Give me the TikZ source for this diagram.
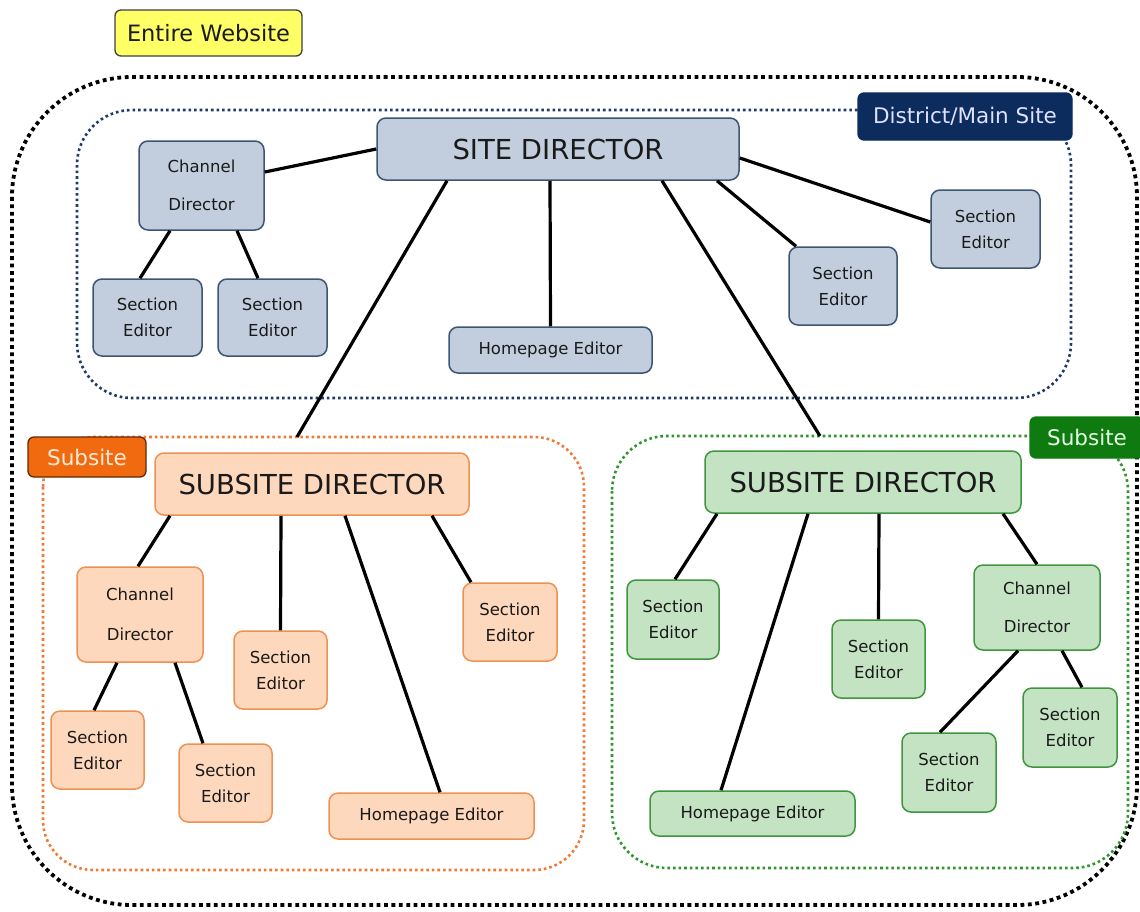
\documentclass[tikz,border=0pt]{standalone}
\usepackage{fontspec}
\setmainfont{DejaVu Sans}
\definecolor{txt}{HTML}{1A1A1A}
\definecolor{bfill}{HTML}{C2CEDD}
\definecolor{bline}{HTML}{3D5573}
\definecolor{bdot}{HTML}{1F3A6A}
\definecolor{ofill}{HTML}{FDD8BC}
\definecolor{oline}{HTML}{EE9254}
\definecolor{odot}{HTML}{EE7A36}
\definecolor{gfill}{HTML}{C3E3C3}
\definecolor{gline}{HTML}{3F963F}
\definecolor{gdot}{HTML}{2E962E}
\definecolor{ylw}{HTML}{FFFF66}
\definecolor{navy}{HTML}{0B2C5C}
\definecolor{orng}{HTML}{F26A10}
\definecolor{grn}{HTML}{0F7A10}
\tikzset{
  sz/.style 2 args={minimum width=#1pt, minimum height=#2pt},
  box/.style={draw, rounded corners=9pt, line width=1.5pt, inner sep=0pt, align=center, text=txt},
  bbox/.style={box, fill=bfill, draw=bline},
  obox/.style={box, fill=ofill, draw=oline},
  gbox/.style={box, fill=gfill, draw=gline},
  small/.style={font=\fontsize{16.5}{26}\selectfont},
  chan/.style={font=\fontsize{16.5}{38}\selectfont},
  big/.style={font=\fontsize{27.5}{33}\selectfont},
  conn/.style={line width=3.2pt, black},
  region/.style={line width=2.6pt, dash pattern=on 2.6pt off 3pt},
  lbl/.style={draw, rounded corners=6pt, line width=1.3pt, inner sep=0pt, font=\fontsize{21.5}{26}\selectfont}
}
\begin{document}
\begin{tikzpicture}[x=1pt,y=-1pt]
\useasboundingbox[fill=white] (0,0) rectangle (1140,911);
% regions
\draw[black, line width=3.8pt, dash pattern=on 3.8pt off 3.6pt, rounded corners=120pt] (12,77) rectangle (1137,905);
\draw[region, bdot, rounded corners=55pt] (77,110) rectangle (1071,398);
\draw[region, odot, rounded corners=50pt] (43,437) rectangle (584,870);
\draw[region, gdot, rounded corners=55pt] (612,436) rectangle (1128,868);
\coordinate (oTop) at (297,437);
\coordinate (gTop) at (820,436);
% district nodes
\node[bbox, big, sz={362}{62}] (site) at (558,149) {SITE DIRECTOR};
\node[bbox, chan, sz={125}{89}] (chT) at (201.5,185.5) {Channel\\Director};
\node[bbox, small, sz={109}{77}] (seT1) at (147.5,317.5) {Section\\Editor};
\node[bbox, small, sz={109}{77}] (seT2) at (272.5,317.5) {Section\\Editor};
\node[bbox, small, sz={203}{46}] (hpT) at (550.5,350) {Homepage Editor};
\node[bbox, small, sz={108}{78}] (seT3) at (843,286) {Section\\Editor};
\node[bbox, small, sz={109}{78}] (seT4) at (985.5,229) {Section\\Editor};
% orange subsite
\node[obox, big, sz={314}{62}] (subO) at (312,484) {SUBSITE DIRECTOR};
\node[obox, font=\fontsize{16.5}{40}\selectfont, sz={126}{95}] (chO) at (140,614.5) {Channel\\Director};
\node[obox, small, sz={93}{78}] (seO1) at (97.5,750) {Section\\Editor};
\node[obox, small, sz={93}{78}] (seO2) at (225.5,783) {Section\\Editor};
\node[obox, small, sz={93}{78}] (seO3) at (280.5,670) {Section\\Editor};
\node[obox, small, sz={94}{78}] (seO4) at (510,622) {Section\\Editor};
\node[obox, small, sz={205}{46}] (hpO) at (431.5,816) {Homepage Editor};
% green subsite
\node[gbox, big, sz={316}{62}] (subG) at (863,482) {SUBSITE DIRECTOR};
\node[gbox, small, sz={92}{79}] (seG1) at (673,619.5) {Section\\Editor};
\node[gbox, small, sz={205}{45}] (hpG) at (752.5,813.5) {Homepage Editor};
\node[gbox, small, sz={93}{78}] (seG2) at (878.5,659) {Section\\Editor};
\node[gbox, chan, sz={126}{85}] (chG) at (1037,607.5) {Channel\\Director};
\node[gbox, small, sz={94}{79}] (seG3) at (949,772.5) {Section\\Editor};
\node[gbox, small, sz={94}{79}] (seG4) at (1070,727.5) {Section\\Editor};
% connectors district
\draw[conn] (site.west) -- ([yshift=13.5pt]chT.east);
\draw[conn] ([xshift=-31.5pt]chT.south) -- ([xshift=-7.5pt]seT1.north);
\draw[conn] ([xshift=35.5pt]chT.south) -- ([xshift=-14.5pt]seT2.north);
\draw[conn] ([xshift=-111pt]site.south) -- (oTop);
\draw[conn] ([xshift=-8pt]site.south) -- (hpT.north);
\draw[conn] ([xshift=104pt]site.south) -- (gTop);
\draw[conn] ([xshift=159pt]site.south) -- ([xshift=-47pt]seT3.north);
\draw[conn] ([yshift=-9pt]site.east) -- ([yshift=7pt]seT4.west);
% connectors orange
\draw[conn] ([xshift=-142pt]subO.south) -- ([xshift=-2pt]chO.north);
\draw[conn] ([xshift=-31pt]subO.south) -- (seO3.north);
\draw[conn] ([xshift=33pt]subO.south) -- ([xshift=8.5pt]hpO.north);
\draw[conn] ([xshift=120pt]subO.south) -- ([xshift=-39pt]seO4.north);
\draw[conn] ([xshift=-23pt]chO.south) -- ([xshift=-3.5pt]seO1.north);
\draw[conn] ([xshift=35pt]chO.south) -- ([xshift=-22.5pt]seO2.north);
% connectors green
\draw[conn] ([xshift=-146pt]subG.south) -- ([xshift=2pt]seG1.north);
\draw[conn] ([xshift=-55pt]subG.south) -- ([xshift=-31.5pt]hpG.north);
\draw[conn] ([xshift=16pt]subG.south) -- (seG2.north);
\draw[conn] ([xshift=140pt]subG.south) -- (chG.north);
\draw[conn] ([xshift=-19pt]chG.south) -- ([xshift=-9pt]seG3.north);
\draw[conn] ([xshift=25pt]chG.south) -- ([xshift=12pt]seG4.north);
% labels
\node[lbl, fill=ylw, draw=black!75, text=txt, sz={187}{46}, font=\fontsize{22.5}{26}\selectfont] (lblEW) at (208.5,33) {Entire Website};
\node[lbl, fill=navy, draw=navy, text=white!88!blue, sz={214}{47}] (lblD) at (965,116.5) {District/Main Site};
\node[lbl, fill=orng, draw=black!60!orng, text=orange!15, sz={118}{40}] (lblO) at (87,457) {Subsite};
\node[lbl, fill=grn, draw=grn, text=green!10, sz={114}{41}] (lblG) at (1087,437.5) {Subsite};
\end{tikzpicture}
\end{document}
